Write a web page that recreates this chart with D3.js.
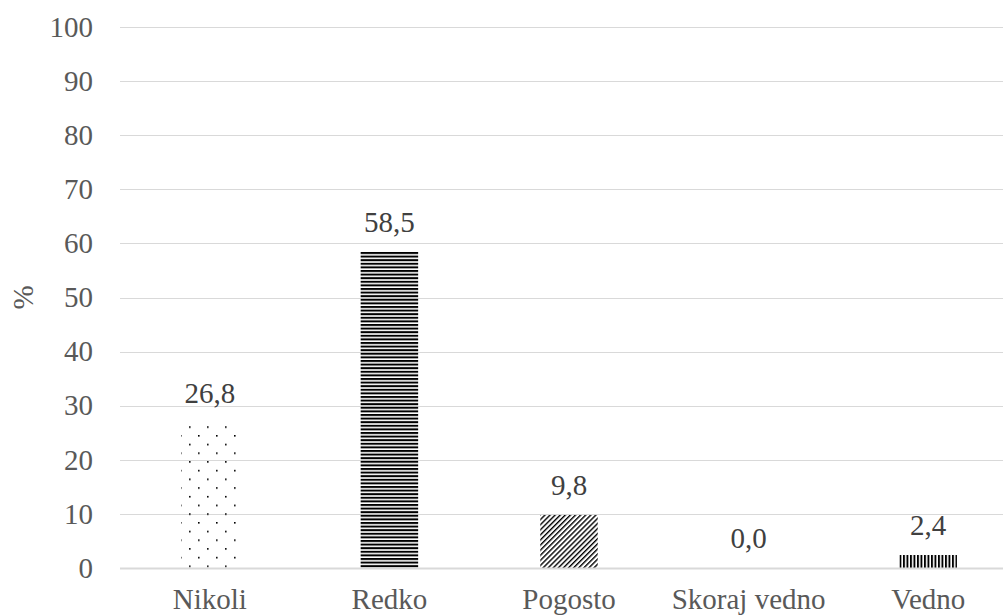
<!DOCTYPE html>
<html>
<head>
<meta charset="utf-8">
<script src="https://cdn.jsdelivr.net/npm/d3@7"></script>
<style>
  html, body { margin: 0; padding: 0; background: #fff; }
  svg { display: block; }
</style>
</head>
<body>
<svg id="chart" width="1003" height="616"></svg>
<script>
// Response categories and share of respondents (%)
const categories = ["Nikoli", "Redko", "Pogosto", "Skoraj vedno", "Vedno"];
const values = [26.8, 58.5, 9.8, 0.0, 2.4];
const valueLabels = ["26,8", "58,5", "9,8", "0,0", "2,4"];
const patternIds = ["dots", "hlines", "diag", "none", "vlines"];
const yTicks = [0, 10, 20, 30, 40, 50, 60, 70, 80, 90, 100];

const FONT = "Liberation Serif";
const svg = d3.select("#chart");
const W = 1003, H = 616;
const margin = { left: 120, right: -15, top: 27, bottom: 48 };

const x = d3.scaleBand()
  .domain(categories)
  .range([margin.left, W - margin.right])
  .paddingInner(0.68)
  .paddingOuter(0.34);

const y = d3.scaleLinear()
  .domain([0, 100])
  .range([H - margin.bottom, margin.top]);

// Fill patterns
const defs = svg.append("defs");

const dots = defs.append("pattern").attr("id", "dots")
  .attr("patternUnits", "userSpaceOnUse").attr("width", 18).attr("height", 17.4);
dots.append("rect").attr("x", 0).attr("y", 0).attr("width", 1.6).attr("height", 1.6).attr("fill", "#000");
dots.append("rect").attr("x", 9).attr("y", 8.7).attr("width", 1.6).attr("height", 1.6).attr("fill", "#000");

const hl = defs.append("pattern").attr("id", "hlines")
  .attr("patternUnits", "userSpaceOnUse").attr("width", 10).attr("height", 3.6);
hl.append("rect").attr("x", 0).attr("y", 0).attr("width", 10).attr("height", 2).attr("fill", "#000");

const vl = defs.append("pattern").attr("id", "vlines")
  .attr("patternUnits", "userSpaceOnUse").attr("width", 3.5).attr("height", 10);
vl.append("rect").attr("x", 0).attr("y", 0).attr("width", 1.9).attr("height", 10).attr("fill", "#000");

const dg = defs.append("pattern").attr("id", "diag")
  .attr("patternUnits", "userSpaceOnUse").attr("width", 3.6).attr("height", 3.6)
  .attr("patternTransform", "rotate(45)");
dg.append("rect").attr("x", 0).attr("y", 0).attr("width", 1.4).attr("height", 3.6).attr("fill", "#000");

// Gridlines
svg.append("g").selectAll("line").data(yTicks.filter(d => d !== 0)).join("line")
  .attr("x1", margin.left).attr("x2", W)
  .attr("y1", d => Math.round(y(d)) + 0.5).attr("y2", d => Math.round(y(d)) + 0.5)
  .attr("stroke", "#d9d9d9").attr("stroke-width", 1);

// Y axis tick labels
const yAxis = d3.axisLeft(y).tickValues(yTicks).tickSize(0).tickPadding(0);
const ya = svg.append("g").attr("transform", "translate(93,0)").call(yAxis);
ya.select(".domain").remove();
ya.attr("font-family", FONT).attr("font-size", 29);
ya.selectAll("text").attr("font-family", FONT).attr("font-size", 29).attr("fill", "#595959");

// Y axis title
svg.append("text")
  .attr("transform", `translate(33,${y(50)}) rotate(-90)`)
  .attr("text-anchor", "middle")
  .attr("font-family", FONT).attr("font-size", 29).attr("fill", "#595959")
  .text("%");

// Bars
svg.append("g").selectAll("rect")
  .data(categories.map((c, i) => ({ c, v: values[i], p: patternIds[i] })))
  .join("rect")
  .attr("x", d => x(d.c))
  .attr("width", x.bandwidth())
  .attr("y", d => y(d.v))
  .attr("height", d => y(0) - y(d.v))
  .attr("fill", d => d.p === "none" ? "none" : `url(#${d.p})`);

// Baseline
svg.append("line")
  .attr("x1", margin.left).attr("x2", W)
  .attr("y1", y(0) + 0.5).attr("y2", y(0) + 0.5)
  .attr("stroke", "#d9d9d9").attr("stroke-width", 2);

// Value labels
svg.append("g").selectAll("text")
  .data(categories.map((c, i) => ({ c, v: values[i], t: valueLabels[i] })))
  .join("text")
  .attr("x", d => x(d.c) + x.bandwidth() / 2)
  .attr("y", d => y(d.v) - 20)
  .attr("text-anchor", "middle")
  .attr("font-family", FONT).attr("font-size", 29).attr("fill", "#404040")
  .text(d => d.t);

// Category labels
const xAxis = d3.axisBottom(x).tickSize(0).tickPadding(0);
const xa = svg.append("g").attr("transform", `translate(0,${y(0) + 20})`).call(xAxis);
xa.select(".domain").remove();
xa.attr("font-family", FONT).attr("font-size", 29);
xa.selectAll("text").attr("font-family", FONT).attr("font-size", 29).attr("fill", "#595959")
  .attr("dy", "0.71em");
</script>
</body>
</html>
